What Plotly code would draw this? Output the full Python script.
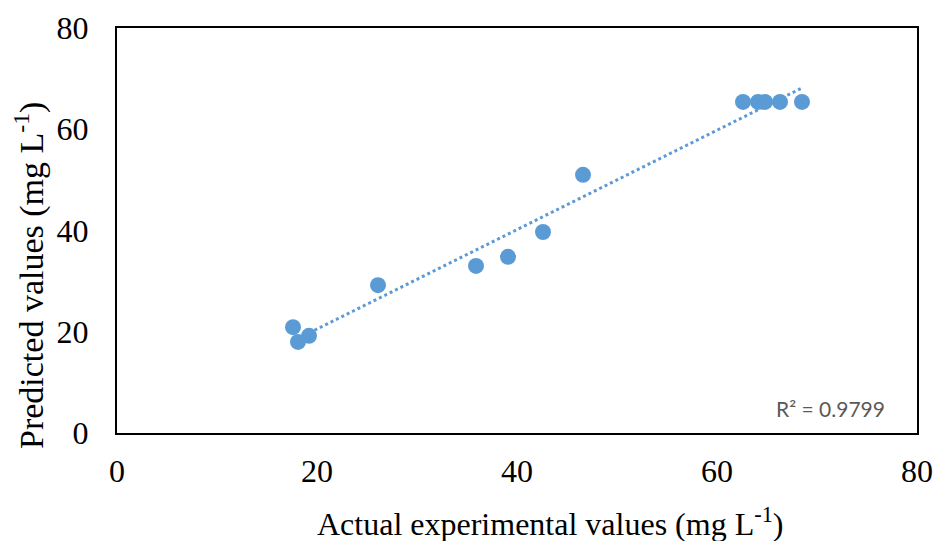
import numpy as np
import plotly.graph_objects as go

actual = [17.6, 18.1, 19.2, 26.1, 35.9, 39.1, 42.6, 46.6, 62.6, 64.1, 64.8, 66.3, 68.5]
predicted = [20.9, 18.0, 19.2, 29.2, 33.0, 34.8, 39.7, 51.0, 65.4, 65.4, 65.4, 65.4, 65.4]
r2_label = "R² = 0.9799"
x_title = "Actual experimental values (mg L<sup>-1</sup>)"
y_title = "Predicted values (mg L<sup>-1</sup>)"

x = np.array(actual)
y = np.array(predicted)
slope, intercept = np.polyfit(x, y, 1)
xl = np.array([x.min(), x.max()])
yl = slope * xl + intercept

color = "#5B9BD5"
fig = go.Figure()
fig.add_trace(go.Scatter(x=xl, y=yl, mode="lines",
                         line=dict(color=color, width=3, dash="dot"),
                         hoverinfo="skip", showlegend=False))
fig.add_trace(go.Scatter(x=actual, y=predicted, mode="markers",
                         marker=dict(color=color, size=16),
                         showlegend=False))

font_serif = "Liberation Serif, Times New Roman, serif"
W, H = 936, 541
L, R, T, B = 117, 19, 28, 108
pw, ph = W - L - R, H - T - B

fig.update_layout(
    width=W, height=H,
    margin=dict(l=L, r=R, t=T, b=B),
    paper_bgcolor="white", plot_bgcolor="white",
    font=dict(family=font_serif, size=32, color="black"),
    xaxis=dict(range=[0, 80], dtick=20, showgrid=False, zeroline=False,
               showline=True, linecolor="black", linewidth=2, mirror=True,
               ticks="", ticklabelstandoff=9, automargin=False),
    yaxis=dict(range=[0, 80], dtick=20, showgrid=False, zeroline=False,
               showline=True, linecolor="black", linewidth=2, mirror=True,
               ticks="", ticklabelstandoff=20, automargin=False),
    annotations=[
        dict(text=r2_label, xref="paper", yref="paper",
             x=(887 - L) / pw, y=(433 - 408) / ph, xanchor="right", yanchor="middle",
             showarrow=False,
             font=dict(family="Lato, Open Sans, sans-serif", size=21, color="#595959")),
        dict(text=x_title, xref="paper", yref="paper",
             x=(550 - L) / pw, y=-(522 - 433) / ph, xanchor="center", yanchor="middle",
             showarrow=False, font=dict(size=32)),
        dict(text=y_title, xref="paper", yref="paper", textangle=-90,
             x=-(117 - 29) / pw, y=(433 - 276) / ph, xanchor="center", yanchor="middle",
             showarrow=False, font=dict(size=34)),
    ],
)
fig.write_html("out.html")
